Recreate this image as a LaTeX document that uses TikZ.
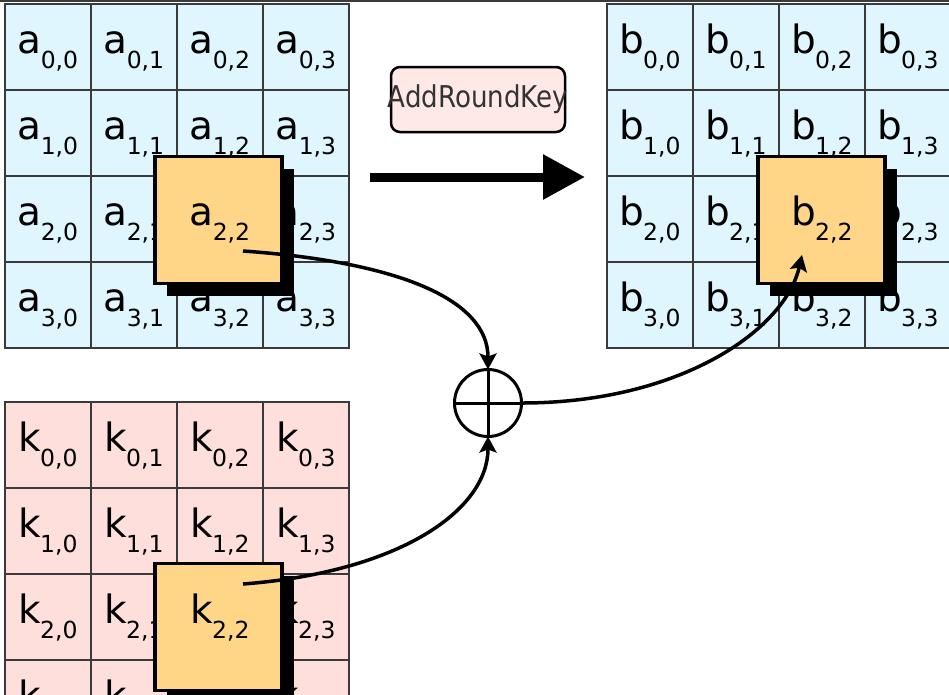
\documentclass[tikz,border=0pt]{standalone}
\usepackage{fontspec}
\setmainfont{DejaVu Sans}
\newfontfamily\keyFont[FakeStretch=0.87]{DejaVu Sans}
\usetikzlibrary{arrows.meta, shadows}

% Letter with its row,column index
\newcommand{\cellLabel}[3]{#1\kern-1pt\raisebox{-15.5pt}{\fontsize{23.5}{25}\selectfont #2,#3}}

\begin{document}
\begin{tikzpicture}[x=1pt, y=-1pt,
    stateCell/.style={draw=gridColour, line width=1.6pt, fill=stateColour, minimum size=86pt, inner sep=0pt,
        text height=30pt, text depth=18pt, font=\fontsize{39}{42}\selectfont},
    keyCell/.style={stateCell, fill=keyColour},
    selCell/.style={draw=black, line width=3.5pt, fill=selColour, minimum size=127pt, inner sep=0pt,
        drop shadow={shadow xshift=12pt, shadow yshift=-12pt, opacity=1, fill=black}},
    selLabel/.style={inner sep=0pt, text height=30pt, text depth=18pt, font=\fontsize{39}{42}\selectfont},
    keyBox/.style={draw=black, line width=2.5pt, fill=boxColour, rounded corners=9pt, minimum width=174pt,
        minimum height=65pt, inner sep=0pt, text=black!80, font=\keyFont\fontsize{30}{33}\selectfont},
    xorNode/.style={circle, draw=black, line width=3pt, minimum size=67pt, inner sep=0pt, outer sep=0pt},
    flow/.style={line width=3.5pt, -{Stealth[length=16pt, width=17pt, inset=3pt]}},
    bigArrow/.style={line width=9pt, -{Triangle[length=42pt, width=43pt]}}
  ]
    % Define colours
    \definecolor{gridColour}{HTML}{3A3A3A}
    \definecolor{stateColour}{HTML}{DFF6FF}
    \definecolor{keyColour}{HTML}{FFDFDB}
    \definecolor{selColour}{HTML}{FFD587}
    \definecolor{boxColour}{HTML}{FFE9E7}

    % Page size
    \useasboundingbox (0,0) rectangle (949,694);
    \fill[white] (0,0) rectangle (949,694);
    \clip (0,0) rectangle (949,694);
    \draw[line width=2pt, gridColour] (0,1) -- (949,1);

    % Draw the state, output and key grids
    \foreach \r in {0,...,3}
      \foreach \c in {0,...,3} {
        \node[stateCell] (a-\r-\c) at (48+86*\c, 47+86*\r) {\cellLabel{a}{\r}{\c}};
        \node[stateCell] (b-\r-\c) at (650+86*\c, 47+86*\r) {\cellLabel{b}{\r}{\c}};
        \node[keyCell] (k-\r-\c) at (48+86*\c, 445+86*\r) {\cellLabel{k}{\r}{\c}};
      }

    % Draw the highlighted bytes
    \node[selCell] (aSel) at (218.5,220) {};
    \node[selCell] (bSel) at (821.5,220) {};
    \node[selCell] (kSel) at (218.5,627) {};
    \node[selLabel] (aSelText) at (a-2-2.center) {\cellLabel{a}{2}{2}};
    \node[selLabel] (bSelText) at (b-2-2.center) {\cellLabel{b}{2}{2}};
    \node[selLabel] (kSelText) at (k-2-2.center) {\cellLabel{k}{2}{2}};

    % Round step label and arrow
    \node[keyBox] (roundKey) at (478,99.5) {\makebox[0pt]{AddRoundKey}};
    \coordinate (arrowStart) at (370,177);
    \coordinate (arrowEnd) at (585,177);
    \draw[bigArrow] (arrowStart) -- (arrowEnd);

    % XOR of the two bytes
    \node[xorNode] (xor) at (488,403) {};
    \draw[line width=3pt] (xor.north) -- (xor.south) (xor.west) -- (xor.east);

    \coordinate (aFrom) at (243,251);
    \coordinate (kFrom) at (243,584);
    \coordinate (bTo) at (802,255);
    \draw[flow] (aFrom) .. controls (400,262) and (488,300) .. (xor.north);
    \draw[flow] (kFrom) .. controls (400,572) and (488,510) .. (xor.south);
    \draw[flow] (xor.east) .. controls (680,403) and (785,330) .. (bTo);

\end{tikzpicture}
\end{document}
